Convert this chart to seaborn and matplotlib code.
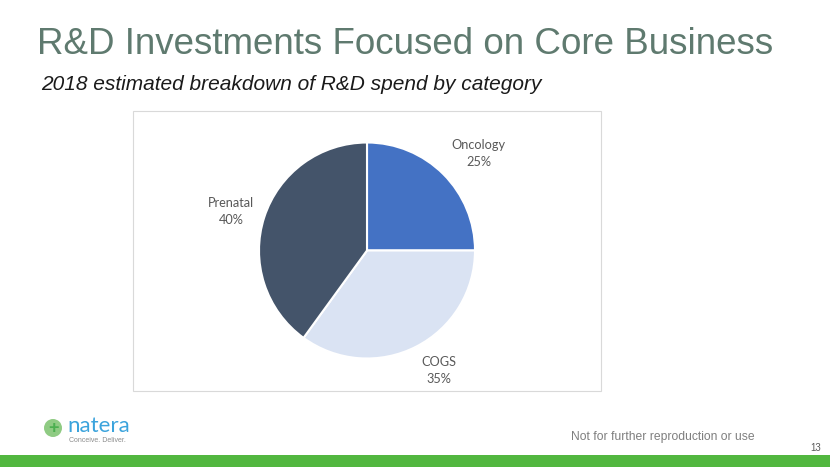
import numpy as np
import matplotlib
matplotlib.use("Agg")
import matplotlib.pyplot as plt
import matplotlib.patches as mpatches
import seaborn as sns

categories = ["Oncology", "COGS", "Prenatal"]
shares = [25, 35, 40]
colors = ["#4472C4", "#DAE3F3", "#44546A"]
label_dist = [1.37, 1.30, 1.31]
label_turn = [-4, 4, 2]

title = "R&D Investments Focused on Core Business"
subtitle = "2018 estimated breakdown of R&D spend by category"

sns.set_theme(style="white")
plt.rcParams['font.family'] = ['Liberation Sans', 'DejaVu Sans']

W, H = 830, 467
fig = plt.figure(figsize=(W / 100, H / 100), dpi=100)
fig.patch.set_facecolor("white")

def fx(px):
    return px / W

def fy(py):
    return 1 - py / H

# chart frame
fig.patches.append(mpatches.Rectangle((fx(133), fy(391)), fx(601) - fx(133), fy(111) - fy(391),
                                      transform=fig.transFigure, fill=False,
                                      edgecolor="#D9D9D9", linewidth=0.8))

cx, cy, r = 367, 250.5, 108
ax = fig.add_axes([fx(cx - r), fy(cy + r), 2 * r / W, 2 * r / H])
wedges, _ = ax.pie(shares, colors=colors, startangle=90, counterclock=False,
                   wedgeprops=dict(edgecolor="white", linewidth=1.5))
ax.set_xlim(-1, 1)
ax.set_ylim(-1, 1)
ax.set_aspect("equal")
ax.axis("off")

for w, cat, val, d, t in zip(wedges, categories, shares, label_dist, label_turn):
    ang = np.deg2rad((w.theta1 + w.theta2) / 2 + t)
    ax.text(d * np.cos(ang), d * np.sin(ang), f"{cat}\n{val}%", ha="center", va="center",
            fontsize=9.2, color="#595959", family=["Lato", "DejaVu Sans"], linespacing=1.5)

# titles
fig.text(fx(37), fy(44), title, fontsize=26.5, color="#5F7A6F", ha="left", va="center")
fig.text(fx(41), fy(85), subtitle, fontsize=15, style="italic", color="#1A1A1A",
         ha="left", va="center")

# footer
fig.text(fx(571), fy(437), "Not for further reproduction or use", fontsize=8.7,
         color="#7F7F7F", ha="left", va="center")
fig.text(fx(816), fy(448), "13", fontsize=7, color="#595959", ha="center", va="center")
fig.patches.append(mpatches.Rectangle((0, 0), 1, fy(455), transform=fig.transFigure,
                                      facecolor="#52B73F", edgecolor="none"))

# logo
fig.patches.append(mpatches.Ellipse((fx(53), fy(428)), 18 / W, 18 / H, transform=fig.transFigure,
                                    facecolor="#8FCB83", edgecolor="none"))
fig.text(fx(53), fy(428.5), "+", fontsize=13, color="#4CAF50", ha="center", va="center",
         fontweight="bold")
fig.text(fx(67), fy(426), "natera", fontsize=16, color="#3BA3DC", ha="left", va="center",
         family=["Lato", "DejaVu Sans"])
fig.text(fx(69), fy(441), "Conceive. Deliver.", fontsize=5, color="#8C8C8C",
         ha="left", va="center")

fig.savefig("out.png", dpi=100, facecolor="white")
